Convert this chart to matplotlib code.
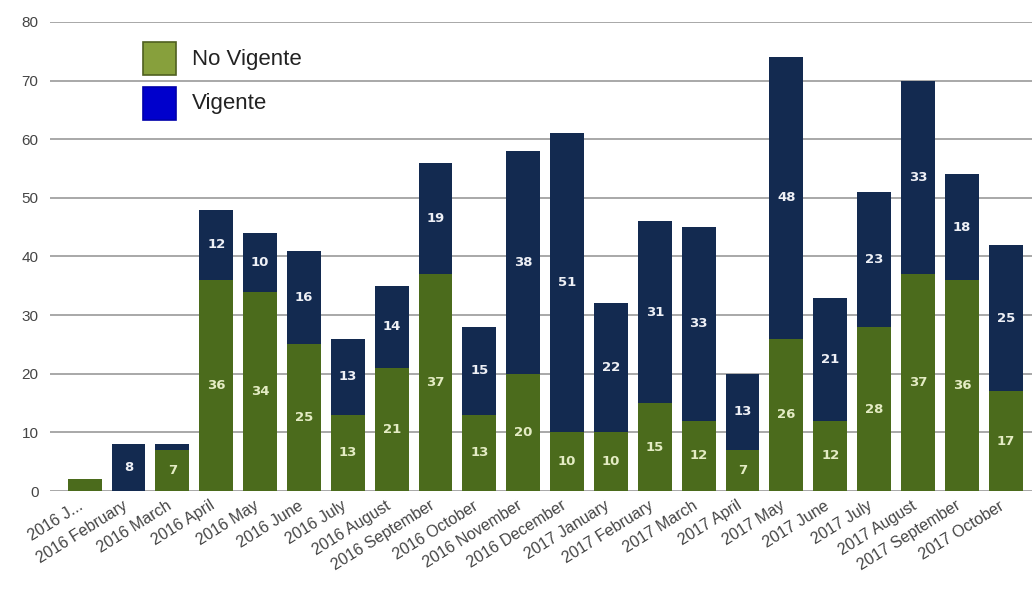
import matplotlib
matplotlib.use("Agg")
import matplotlib.pyplot as plt
from matplotlib.patches import Rectangle
import numpy as np

months = [
    "2016 J...", "2016 February", "2016 March", "2016 April", "2016 May",
    "2016 June", "2016 July", "2016 August", "2016 September", "2016 October",
    "2016 November", "2016 December", "2017 January", "2017 February",
    "2017 March", "2017 April", "2017 May", "2017 June", "2017 July",
    "2017 August", "2017 September", "2017 October",
]
no_vigente = [2, 0, 7, 36, 34, 25, 13, 21, 37, 13, 20, 10, 10, 15, 12, 7, 26, 12, 28, 37, 36, 17]
vigente = [0, 8, 1, 12, 10, 16, 13, 14, 19, 15, 38, 51, 22, 31, 33, 13, 48, 21, 23, 33, 18, 25]
y_ticks = [0, 10, 20, 30, 40, 50, 60, 70, 80]
series_names = ["No Vigente", "Vigente"]

GREEN = "#4b6b1c"
NAVY = "#132a50"
LEG_COLORS = ["#87a03c", "#0000cc"]
LEG_EDGES = ["#4f6020", "#0000aa"]

W, H = 1032, 591
fig = plt.figure(figsize=(W / 100, H / 100), dpi=100)
ax = fig.add_axes([0.048, 0.169, 0.952, 0.794])

x = np.arange(len(months))
nv = np.array(no_vigente)
v = np.array(vigente)
ax.bar(x, nv, width=0.77, color=GREEN, zorder=3)
ax.bar(x, v, width=0.77, bottom=nv, color=NAVY, zorder=3)

for i in x:
    if nv[i] >= 5:
        ax.text(i, nv[i] / 2, str(nv[i]), ha="center", va="center",
                color="#e4ecc4", fontsize=9.5, fontweight="bold", zorder=4)
    if v[i] >= 5:
        ax.text(i, nv[i] + v[i] / 2, str(v[i]), ha="center", va="center",
                color="#eef0f6", fontsize=9.5, fontweight="bold", zorder=4)

ax.set_xlim(-0.8, 21.6)
ax.set_ylim(0, 80)
ax.set_yticks(y_ticks)
ax.yaxis.grid(True, color="#9a9a9a", linewidth=1.2, zorder=0)
ax.set_axisbelow(True)
for s in ax.spines.values():
    s.set_visible(False)
ax.tick_params(axis="both", length=0, labelsize=11, colors="#444444")
ax.tick_params(axis="y", pad=8)
ax.tick_params(axis="x", pad=5)
ax.set_xticks(x - 0.15)
ax.set_xticklabels(months, rotation=32, ha="right", rotation_mode="anchor",
                   family="Liberation Sans", fontsize=11.5)
for lab in ax.get_yticklabels():
    lab.set_family("Liberation Sans")

# legend drawn by hand, in figure pixels
for k, name in enumerate(series_names):
    top = 42 + 45 * k
    fig.patches.append(Rectangle((143 / W, 1 - (top + 33) / H), 33 / W, 33 / H,
                                 transform=fig.transFigure,
                                 facecolor=LEG_COLORS[k], edgecolor=LEG_EDGES[k],
                                 linewidth=1.2))
    fig.text(192 / W, 1 - (top + 17) / H, name, ha="left", va="center",
             fontsize=16, family="Liberation Sans", color="#222222")

fig.savefig("out.png", dpi=100)
